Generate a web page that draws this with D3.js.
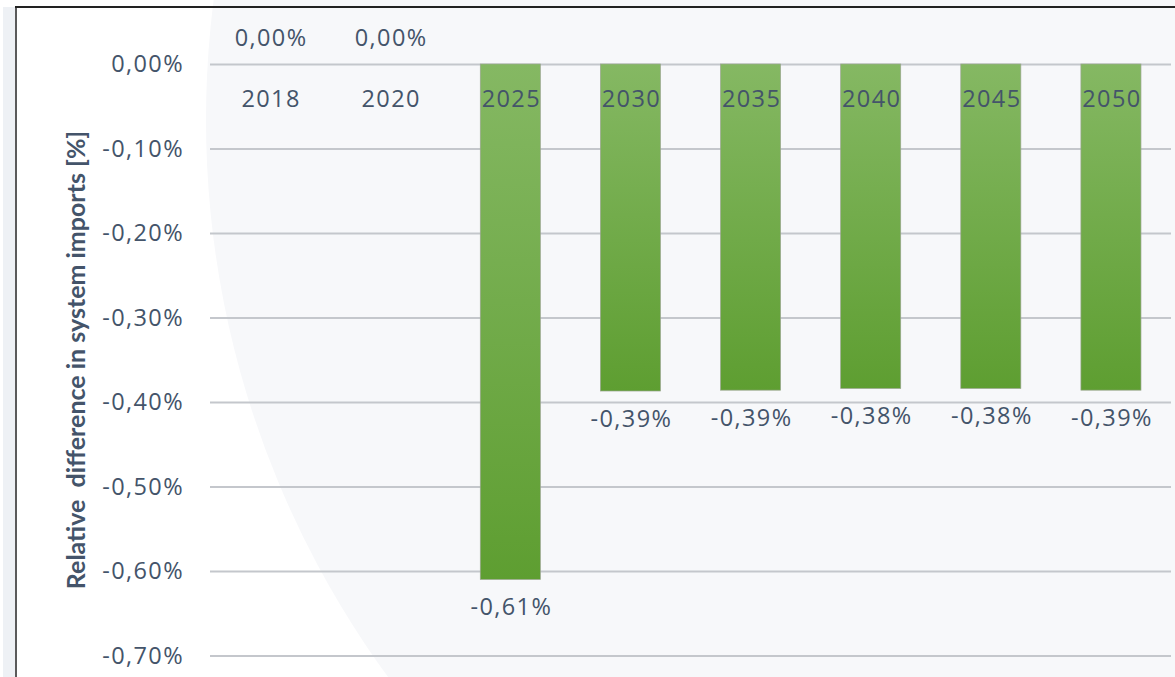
<!DOCTYPE html>
<html>
<head>
<meta charset="utf-8">
<script src="https://cdn.jsdelivr.net/npm/d3@7"></script>
<style>
  body { margin: 0; background: #fff; }
  svg { display: block; }
</style>
</head>
<body>
<div id="chart"></div>
<script>
// data
var years = ["2018", "2020", "2025", "2030", "2035", "2040", "2045", "2050"];
var diffs = [0, 0, -0.61, -0.387, -0.386, -0.384, -0.384, -0.386];
var yTicks = [0, -0.1, -0.2, -0.3, -0.4, -0.5, -0.6, -0.7];

var W = 1175, H = 677;
var margin = {top: 64, right: 4, bottom: 21.5, left: 210};
var width = W - margin.left - margin.right,
    height = H - margin.top - margin.bottom;

var textCol = "#44546a";
var fmt = function(v) { return v.toFixed(2).replace(".", ",") + "%"; };

var svg0 = d3.select("#chart").append("svg")
    .attr("width", W)
    .attr("height", H);

// background shape
svg0.append("circle")
    .attr("cx", 1149).attr("cy", 120).attr("r", 943)
    .attr("fill", "#f7f8fa");

// frame at the left and top
svg0.append("rect")
    .attr("x", 3).attr("y", 7).attr("width", 12).attr("height", H)
    .attr("fill", "#eef1f5");
svg0.append("line")
    .attr("x1", 16).attr("x2", 16).attr("y1", 7).attr("y2", H)
    .attr("stroke", "#5a5a5a").attr("stroke-width", 2);
svg0.append("line")
    .attr("x1", 15).attr("x2", W).attr("y1", 7).attr("y2", 7)
    .attr("stroke", "#222").attr("stroke-width", 2);

var defs = svg0.append("defs");
var grad = defs.append("linearGradient")
    .attr("id", "barGrad")
    .attr("x1", 0).attr("x2", 0).attr("y1", 0).attr("y2", 1);
grad.append("stop").attr("offset", "0%").attr("stop-color", "#85b863");
grad.append("stop").attr("offset", "100%").attr("stop-color", "#5e9e31");

var svg = svg0.append("g")
    .attr("transform", "translate(" + margin.left + "," + margin.top + ")");

var x = d3.scaleBand()
    .domain(years)
    .range([0, width])
    .paddingInner(0.5)
    .paddingOuter(0.25);

var y = d3.scaleLinear()
    .domain([-0.7, 0])
    .range([height, 0]);

// label style shared by all small texts
function labelStyle(sel) {
  sel.attr("fill", textCol)
    .style("font-family", "Open Sans")
    .style("font-size", "23.5px")
    .style("letter-spacing", "1.4px");
}

// Y axis with gridlines
var yAxis = svg.append("g")
    .call(d3.axisLeft(y).tickValues(yTicks).tickSize(-width).tickFormat(fmt).tickPadding(26));
yAxis.select(".domain").remove();
yAxis.selectAll(".tick line")
    .attr("stroke", "#c4c7cc")
    .attr("stroke-width", 2);
yAxis.selectAll(".tick text").call(labelStyle);

// bars
svg.selectAll(".bar")
    .data(years)
    .enter()
    .append("rect")
      .attr("class", "bar")
      .attr("x", function(d) { return x(d); })
      .attr("y", y(0))
      .attr("width", x.bandwidth())
      .attr("height", function(d, i) { return y(diffs[i]) - y(0); })
      .attr("fill", "url(#barGrad)")
      .attr("stroke", "#9aa58f")
      .attr("stroke-width", 0.7);

// category labels on top of the bars
svg.selectAll(".cat")
    .data(years)
    .enter()
    .append("text")
      .attr("x", function(d) { return x(d) + x.bandwidth() / 2 + 1; })
      .attr("y", y(0) + 43)
      .attr("text-anchor", "middle")
      .call(labelStyle)
      .text(function(d) { return d; });

// value labels
svg.selectAll(".val")
    .data(years)
    .enter()
    .append("text")
      .attr("x", function(d) { return x(d) + x.bandwidth() / 2 + 1; })
      .attr("y", function(d, i) { return diffs[i] < 0 ? y(diffs[i]) + 36 : y(0) - 18; })
      .attr("text-anchor", "middle")
      .call(labelStyle)
      .text(function(d, i) { return fmt(diffs[i]); });

// Y axis title
svg0.append("text")
    .attr("transform", "translate(85," + 360 + ") rotate(-90)")
    .attr("text-anchor", "middle")
    .attr("fill", textCol)
    .style("font-family", "Lato")
    .style("font-weight", "bold")
    .style("font-size", "25px")
    .style("white-space", "pre")
    .text("Relative  difference in system imports [%]");
</script>
</body>
</html>
